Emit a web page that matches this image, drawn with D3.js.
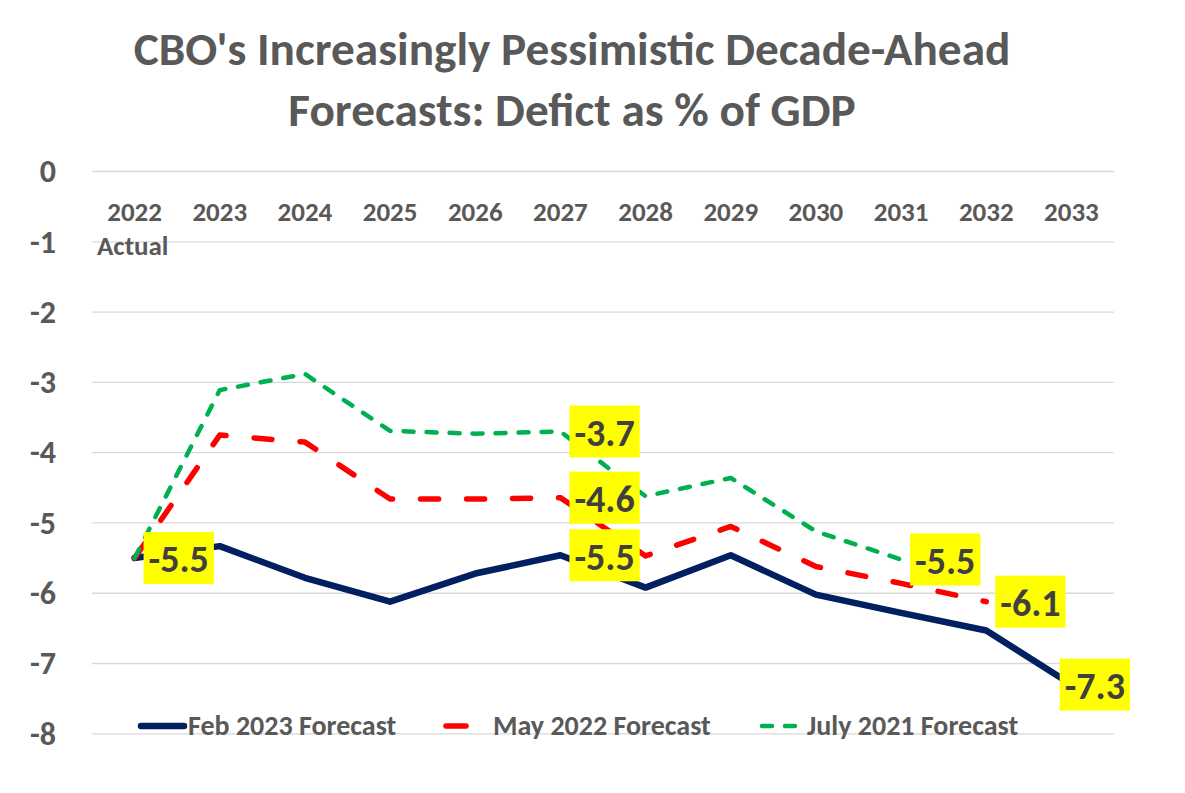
<!DOCTYPE html>
<html>
<head>
<meta charset="utf-8">
<script src="https://cdn.jsdelivr.net/npm/d3@7"></script>
<style>
  body { margin: 0; background: #fff; }
  svg { font-family: Carlito, Calibri, Lato, sans-serif; font-weight: bold; }
</style>
</head>
<body>
<svg></svg>
<script>
// years on the x axis
const years = ["2022", "2023", "2024", "2025", "2026", "2027", "2028", "2029", "2030", "2031", "2032", "2033"];

// deficit as % of GDP
const feb2023 = [-5.5, -5.33, -5.78, -6.12, -5.72, -5.46, -5.92, -5.46, -6.02, -6.28, -6.53, -7.3];
const may2022 = [-5.5, -3.75, -3.85, -4.66, -4.66, -4.64, -5.47, -5.05, -5.62, -5.86, -6.12];
const july2021 = [-5.5, -3.11, -2.88, -3.69, -3.73, -3.70, -4.62, -4.36, -5.12, -5.52];

const seriesNames = ["Feb 2023 Forecast", "May 2022 Forecast", "July 2021 Forecast"];
const yTicks = [0, -1, -2, -3, -4, -5, -6, -7, -8];

// which points get a yellow value label: [series index, year index]
const labelled = [[0, 0], [2, 5], [1, 5], [0, 5], [2, 9], [1, 10], [0, 11]];

const titleLines = ["CBO's Increasingly Pessimistic Decade-Ahead", "Forecasts: Defict as % of GDP"];

const W = 1185, H = 793;
const plot = { left: 92, right: 1114, top: 171.5, bottom: 733.8 };

// plain hyphen for negatives, like the original
const locale = d3.formatLocale({ decimal: ".", thousands: ",", grouping: [3], currency: ["$", ""], minus: "-" });

const svg = d3.select("svg")
    .attr("width", W)
    .attr("height", H);

const x = d3.scaleBand()
    .domain(years)
    .range([plot.left, plot.right]);
const xc = d => x(d) + x.bandwidth() / 2;

const y = d3.scaleLinear()
    .domain([0, -8])
    .range([plot.top, plot.bottom]);

// title, sized so that the first line spans the same width as the original
const title = svg.append("g").attr("fill", "#595959");
const t1 = title.append("text")
    .attr("x", 572).attr("y", 65)
    .attr("text-anchor", "middle")
    .style("font-size", "40px")
    .text(titleLines[0]);
const fs = 40 * 877 / t1.node().getComputedTextLength();
t1.style("font-size", fs + "px");
title.append("text")
    .attr("x", 572).attr("y", 126)
    .attr("text-anchor", "middle")
    .style("font-size", fs + "px")
    .text(titleLines[1]);

// horizontal gridlines
svg.append("g")
    .selectAll("line")
    .data(yTicks)
    .enter()
    .append("line")
    .attr("x1", plot.left)
    .attr("x2", plot.right)
    .attr("y1", d => y(d))
    .attr("y2", d => y(d))
    .attr("stroke", "#d9d9d9")
    .attr("stroke-width", 1.3);

// y axis labels
const yAxis = svg.append("g")
    .attr("transform", "translate(56,0)")
    .call(d3.axisLeft(y).tickValues(yTicks).tickSize(0).tickPadding(0).tickFormat(locale.format("d")));
yAxis.select(".domain").remove();
yAxis.attr("font-family", null).attr("font-size", null);
yAxis.selectAll("text")
    .attr("fill", "#595959")
    .style("font-size", "32px");

// x axis labels sit under the zero line
const xAxis = svg.append("g")
    .attr("transform", `translate(0,${y(0) + 40})`)
    .call(d3.axisBottom(x).tickSize(0).tickPadding(0));
xAxis.select(".domain").remove();
xAxis.attr("font-family", null).attr("font-size", null);
xAxis.selectAll("text")
    .attr("fill", "#595959")
    .attr("dy", "0.35em")
    .style("font-size", "27px");

svg.append("text")
    .attr("x", 97)
    .attr("y", 255)
    .attr("fill", "#595959")
    .style("font-size", "27px")
    .text("Actual");

// lines
const styles = [
    { color: "#002060", width: 6.5, dash: null },
    { color: "#ff0000", width: 5.5, dash: "18,28" },
    { color: "#00b050", width: 4.5, dash: "10,13" }
];
const series = [feb2023, may2022, july2021];

const line = d3.line()
    .x((d, i) => xc(years[i]))
    .y(d => y(d));

series.forEach((s, k) => {
    svg.append("path")
        .datum(s)
        .attr("fill", "none")
        .attr("stroke", styles[k].color)
        .attr("stroke-width", styles[k].width)
        .attr("stroke-linecap", "round")
        .attr("stroke-linejoin", "round")
        .attr("stroke-dasharray", styles[k].dash)
        .attr("d", line);
});

// yellow value labels, to the right of the point but kept inside the chart
const fmt = locale.format(".1f");
const labels = svg.append("g");
labelled.forEach(([k, i]) => {
    const v = series[k][i];
    const px = xc(years[i]), py = y(v);
    const g = labels.append("g");
    const txt = g.append("text")
        .attr("fill", "#404040")
        .attr("dy", "0.35em")
        .style("font-size", "38px")
        .text(fmt(v));
    const w = txt.node().getComputedTextLength() + 10;
    const bx = Math.min(px + 9, 1130 - w);
    g.insert("rect", "text")
        .attr("x", bx)
        .attr("y", py - 26)
        .attr("width", w)
        .attr("height", 52)
        .attr("fill", "#ffff00");
    txt.attr("x", bx + 5).attr("y", py + 1);
});

// legend
const legendX = [
    { x1: 141, x2: 184, tx: 188 },
    { x1: 446, x2: 466, tx: 493 },
    { x1: 762, x2: 796, tx: 807 }
];
const legend = svg.append("g");
seriesNames.forEach((name, k) => {
    legend.append("line")
        .attr("x1", legendX[k].x1)
        .attr("x2", legendX[k].x2)
        .attr("y1", 726)
        .attr("y2", 726)
        .attr("stroke", styles[k].color)
        .attr("stroke-width", styles[k].width)
        .attr("stroke-linecap", "round")
        .attr("stroke-dasharray", k == 2 ? styles[k].dash : null);
    legend.append("text")
        .attr("x", legendX[k].tx)
        .attr("y", 735)
        .attr("fill", "#595959")
        .style("font-size", "28px")
        .text(name);
});
</script>
</body>
</html>
